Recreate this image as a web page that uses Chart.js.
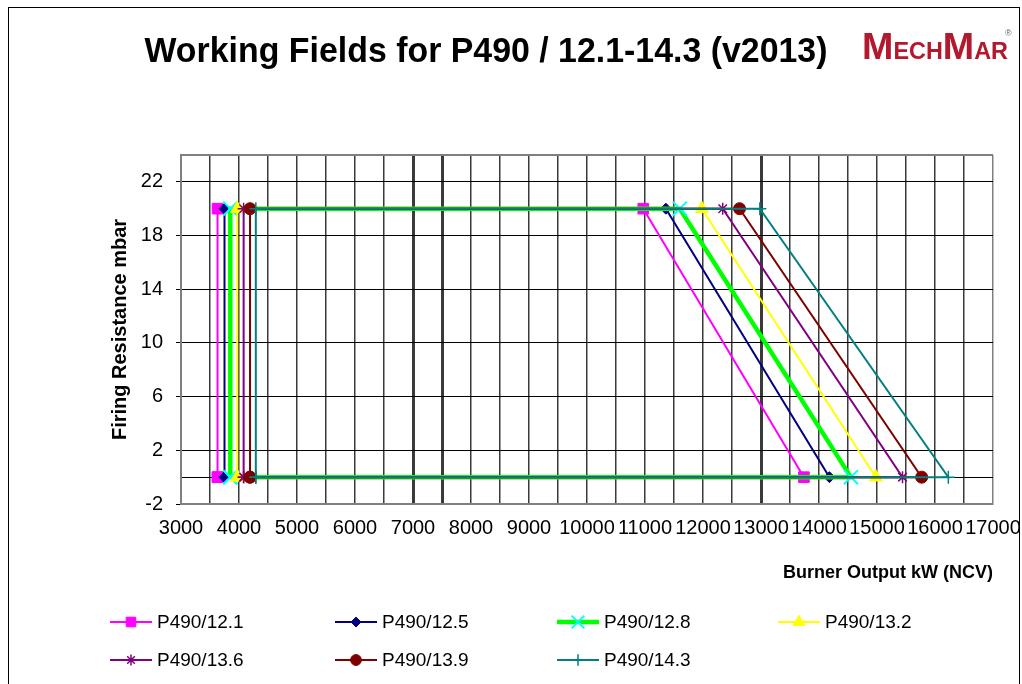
<!DOCTYPE html>
<html>
<head>
<meta charset="utf-8">
<script src="https://cdn.jsdelivr.net/npm/chart.js@4.4.0/dist/chart.umd.min.js"></script>
<style>
html,body{margin:0;padding:0;background:#fff;}
#wrap{position:relative;width:1022px;height:684px;}
</style>
</head>
<body>
<div id="wrap"><canvas id="chart" width="1022" height="684"></canvas></div>
<script>
/* ---------- data ---------- */
const seriesNames = ['P490/12.1','P490/12.5','P490/12.8','P490/13.2','P490/13.6','P490/13.9','P490/14.3'];
// burner output kW at the four corners of each working field
const minOutput         = [3630, 3750, 3850, 3970, 4080, 4190, 4290];
const topRightOutput    = [10970, 11360, 11600, 11980, 12340, 12630, 12980];
const bottomRightOutput = [13740, 14180, 14550, 14980, 15440, 15770, 16230];
// firing resistance mbar
const fieldTop    = [20, 20, 20, 20, 20, 20, 20];
const fieldBottom = [0, 0, 0, 0, 0, 0, 0];

// axes
const xTicks = [3000,3500,4000,4500,5000,5500,6000,6500,7000,7500,8000,8500,9000,9500,10000,
  10500,11000,11500,12000,12500,13000,13500,14000,14500,15000,15500,16000,16500,17000];
const xLabels = [3000,4000,5000,6000,7000,8000,9000,10000,11000,12000,13000,14000,15000,16000,17000];
const yTicks  = [-2, 0, 2, 6, 10, 14, 18, 22, 24];
const yLabels = [-2, 2, 6, 10, 14, 18, 22];

/* ---------- styles ---------- */
const FONT = "'Liberation Sans', Arial, sans-serif";
const lineColors   = ['#ff00ff','#000080','#00ff00','#ffff00','#800080','#800000','#008080'];
const markerColors = ['#ff00ff','#000080','#00ffff','#ffff00','#800080','#800000','#008080'];
const lineWidths   = [2, 2, 4.5, 2, 2, 2, 2];
const markerStyles = ['rect','rectRot','crossRot','triangle','star','circle','cross'];
const markerSizes  = [7.5, 5.5, 10, 7.5, 6, 6, 6.5];
const markerBorder = [1, 1, 2, 1, 1.5, 1, 1.5];

const datasets = seriesNames.map((name,i)=>({
  label: name,
  data: [
    {x:minOutput[i], y:fieldBottom[i]},
    {x:minOutput[i], y:fieldTop[i]},
    {x:topRightOutput[i], y:fieldTop[i]},
    {x:bottomRightOutput[i], y:fieldBottom[i]},
    {x:minOutput[i], y:fieldBottom[i]}
  ],
  showLine: true,
  tension: 0,
  borderColor: lineColors[i],
  borderWidth: lineWidths[i],
  pointStyle: markerStyles[i],
  pointRadius: markerSizes[i],
  pointBackgroundColor: markerColors[i],
  pointBorderColor: markerColors[i],
  pointBorderWidth: markerBorder[i],
  order: seriesNames.length - i
}));

/* ---------- frame, title, logo ---------- */
const framePlugin = {
  id:'frame',
  afterDraw(chart){
    const ctx = chart.ctx;
    ctx.save();
    ctx.strokeStyle = '#000';
    ctx.lineWidth = 1;
    ctx.strokeRect(8.5, 7.5, 1011, 700);

    // title
    ctx.fillStyle = '#000';
    ctx.font = 'bold 35px ' + FONT;
    ctx.textAlign = 'center';
    ctx.textBaseline = 'alphabetic';
    ctx.fillText('Working Fields for P490 / 12.1-14.3 (v2013)', 486, 62, 683);

    // logo
    const parts = [['M',37],['ECH',23],['M',37],['AR',23]];
    ctx.textAlign = 'left';
    let total = 0;
    parts.forEach(([t,s])=>{ ctx.font = 'bold '+s+'px '+FONT; total += ctx.measureText(t).width; });
    const f = 146 / total;
    ctx.translate(862, 59);
    ctx.scale(f, 1);
    ctx.fillStyle = '#b3182c';
    let x = 0;
    parts.forEach(([t,s])=>{ ctx.font = 'bold '+s+'px '+FONT; ctx.fillText(t, x, 0); x += ctx.measureText(t).width; });
    ctx.restore();
    ctx.save();
    ctx.fillStyle = '#666';
    ctx.font = '9px ' + FONT;
    ctx.fillText('®', 1005, 36);
    ctx.restore();
  }
};

/* ---------- legend: line + marker, 4 columns x 2 rows ---------- */
const legendCols = [110, 335, 557, 778];
const legendRows = [622, 660];
const legendPlugin = {
  id:'fieldLegend',
  afterDraw(chart){
    const ctx = chart.ctx;
    ctx.save();
    seriesNames.forEach((name,i)=>{
      const x = legendCols[i % 4], y = legendRows[Math.floor(i / 4)];
      ctx.strokeStyle = lineColors[i];
      ctx.lineWidth = lineWidths[i];
      ctx.beginPath(); ctx.moveTo(x, y); ctx.lineTo(x + 42, y); ctx.stroke();
      ctx.fillStyle = markerColors[i];
      ctx.strokeStyle = markerColors[i];
      ctx.lineWidth = markerBorder[i];
      Chart.helpers.drawPoint(ctx, {pointStyle:markerStyles[i], radius:markerSizes[i]*0.9, rotation:0, borderWidth:markerBorder[i]}, x + 21, y);
      ctx.fillStyle = '#000';
      ctx.font = '19px ' + FONT;
      ctx.textAlign = 'left';
      ctx.textBaseline = 'middle';
      ctx.fillText(name, x + 47, y + 1);
    });
    ctx.restore();
  }
};

const thickGrid = [7000, 7500, 13000];

new Chart(document.getElementById('chart'), {
  type:'scatter',
  data:{datasets},
  options:{
    responsive:false,
    animation:false,
    events:[],
    layout:{padding:{left:0,right:29,top:155,bottom:100}},
    plugins:{legend:{display:false},tooltip:{enabled:false},title:{display:false}},
    scales:{
      x:{
        type:'linear', min:3000, max:17000,
        afterBuildTicks:s=>{ s.ticks = xTicks.map(v=>({value:v})); },
        afterFit:s=>{ s.height = 80; s.paddingLeft = 0; s.paddingRight = 0; },
        ticks:{
          autoSkip:false, maxRotation:0, minRotation:0, padding:12,
          color:'#000', font:{family:FONT,size:20},
          callback:v=>xLabels.includes(v) ? String(v) : ''
        },
        grid:{
          drawTicks:false,
          color:c=>(c.tick && c.tick.value===17000) ? '#808080' : '#3a3a3a',
          lineWidth:c=>(c.tick && thickGrid.includes(c.tick.value)) ? 3 : 1.5
        },
        border:{display:true,color:'#808080',width:2},
        title:{
          display:true, text:'Burner Output kW (NCV)', align:'end',
          color:'#000', font:{family:FONT,size:18,weight:'bold'},
          padding:{top:0,bottom:0}
        }
      },
      y:{
        type:'linear', min:-2, max:24,
        afterBuildTicks:s=>{ s.ticks = yTicks.map(v=>({value:v})); },
        afterFit:s=>{ s.width = 181; s.paddingTop = 0; s.paddingBottom = 0; },
        ticks:{
          padding:13, color:'#000', font:{family:FONT,size:20},
          callback:v=>yLabels.includes(v) ? String(v) : ''
        },
        grid:{
          drawTicks:true, tickLength:5,
          color:c=>(c.tick && c.tick.value===24) ? '#808080' : '#000',
          lineWidth:c=>(c.tick && c.tick.value===24) ? 2 : 1,
          tickColor:c=>(c.tick && yLabels.includes(c.tick.value)) ? '#000' : 'rgba(0,0,0,0)'
        },
        border:{display:true,color:'#808080',width:2},
        title:{
          display:true, text:'Firing Resistance mbar',
          color:'#000', font:{family:FONT,size:20,weight:'bold'},
          padding:{top:108,bottom:0}
        }
      }
    }
  },
  plugins:[framePlugin, legendPlugin]
});
</script>
</body>
</html>
